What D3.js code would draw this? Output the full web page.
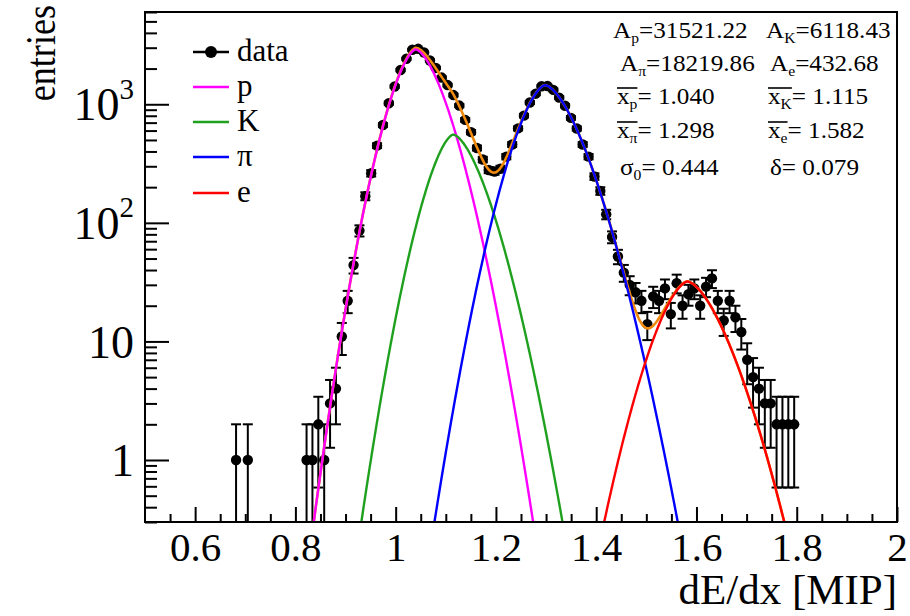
<!DOCTYPE html>
<html><head><meta charset="utf-8">
<script src="https://cdn.jsdelivr.net/npm/d3@7"></script>
<style>
html,body{margin:0;padding:0;background:#fff;}
</style></head><body>
<svg id="chart" width="910" height="616"></svg>
<script>
// Histogram of dE/dx: uniform bins starting at binStart, counts listed from bin index firstBin
const binStart = 0.5, binWidth = 1.5 / 128, firstBin = 15;
const counts = [
  1, 0, 1, 0, 0, 0, 0, 0, 0, 0, 0, 0,
  1, 1, 2, 1, 3, 4, 11, 22, 44, 86, 168, 262, 448, 668, 1021, 1412, 1945, 2418,
  2880, 2935, 2730, 2340, 2025, 1680, 1452, 1196, 975, 738, 582, 428, 342, 279,
  271, 286, 362, 458, 626, 802, 1035, 1228, 1418, 1425, 1322, 1138, 972, 768,
  625, 458, 362, 246, 186, 118, 76, 52, 38, 30, 26, 22, 14, 24, 22, 28, 17, 31, 20,
  25, 28, 20, 29, 34, 22, 15, 22, 16, 12, 7, 5, 4, 3, 3, 2, 2, 2, 2
];

// Fit components
const species = ["p", "K", "π", "e"];
const speciesColor = ["#ff00ff", "#1fa01f", "#0000ff", "#ff0000"];
const totalColor = "#f08a0c";
const fitArea = [31521.22, 6118.43, 18219.86, 432.68];
const fitMean = [1.040, 1.115, 1.298, 1.582];
const sigma0 = 0.444, deltaPar = 0.079;
const peakHeight = [2900, 555, 1450, 32];
const widthLow = [0.0330, 0.0337, 0.0376, 0.0411];
const widthHigh = [0.0380, 0.0400, 0.0451, 0.0478];
const shapePower = 1.6;

const xTicks = [0.6, 0.8, 1, 1.2, 1.4, 1.6, 1.8, 2];
const yTicks = [1, 10, 100, 1000];

const FONT = "Liberation Serif";
const frame = {left: 145, right: 897, top: 12, bottom: 522};
const svg = d3.select("#chart");
const x = d3.scaleLinear([0.5, 2.0], [frame.left, frame.right]);
const y = d3.scaleLog([0.3, 6000], [frame.bottom, frame.top]);

svg.append("defs").append("clipPath").attr("id", "plotClip")
  .append("rect").attr("x", frame.left).attr("y", frame.top)
  .attr("width", frame.right - frame.left).attr("height", frame.bottom - frame.top);

const plot = svg.append("g").attr("clip-path", "url(#plotClip)");

// data points with sqrt(N) errors
const points = counts.map((n, k) => ({
  x: binStart + (firstBin + k + 0.5) * binWidth, n
})).filter(d => d.n > 0);

const pg = plot.append("g");
points.forEach(d => {
  const e = Math.sqrt(d.n);
  const px = x(d.x);
  const yHi = y(d.n + e);
  const yLo = d.n - e > 0.3 ? y(d.n - e) : frame.bottom + 5;
  pg.append("line").attr("x1", px).attr("x2", px).attr("y1", yHi).attr("y2", yLo)
    .attr("stroke", "#000").attr("stroke-width", 2);
  pg.append("line").attr("x1", px - 5).attr("x2", px + 5).attr("y1", yHi).attr("y2", yHi)
    .attr("stroke", "#000").attr("stroke-width", 2);
  if (d.n - e > 0.3)
    pg.append("line").attr("x1", px - 5).attr("x2", px + 5).attr("y1", yLo).attr("y2", yLo)
      .attr("stroke", "#000").attr("stroke-width", 2);
});
pg.selectAll("circle").data(points).join("circle")
  .attr("cx", d => x(d.x)).attr("cy", d => y(d.n)).attr("r", 5.2).attr("fill", "#000");

// fit curves
function component(i, v) {
  const dv = v - fitMean[i];
  const s = dv < 0 ? widthLow[i] : widthHigh[i];
  return peakHeight[i] * Math.exp(-0.5 * Math.pow(Math.abs(dv) / s, shapePower));
}
const grid = d3.range(0.5, 2.0005, 0.002);
const line = d3.line().x(d => x(d[0])).y(d => y(Math.max(d[1], 1e-3)));

plot.append("path")
  .attr("d", line(grid.map(v => [v, species.reduce((s, _, i) => s + component(i, v), 0)])))
  .attr("fill", "none").attr("stroke", totalColor).attr("stroke-width", 2.6);
species.forEach((sp, i) => {
  plot.append("path")
    .attr("d", line(grid.map(v => [v, component(i, v)])))
    .attr("fill", "none").attr("stroke", speciesColor[i]).attr("stroke-width", 2.4);
});

// axes (ticks inside the frame)
const xMinor = d3.range(0.55, 2.0, 0.05).filter(v => Math.abs(v * 5 - Math.round(v * 5)) > 1e-6);
svg.append("g").attr("transform", `translate(0,${frame.bottom})`)
  .call(d3.axisBottom(x).tickValues(xMinor).tickSize(-8).tickFormat(""))
  .call(g => g.select(".domain").remove())
  .selectAll("line").attr("stroke-width", 2);
const xAxis = svg.append("g").attr("transform", `translate(0,${frame.bottom})`)
  .call(d3.axisBottom(x).tickValues(xTicks).tickSize(-15).tickPadding(9).tickFormat(d3.format("")))
  .call(g => g.select(".domain").remove());
xAxis.selectAll("line").attr("stroke-width", 2);
xAxis.selectAll("text").style("font-size", "41px").attr("dy", "0.72em");

const yMinor = [];
[0.1, 1, 10, 100, 1000].forEach(dec => d3.range(2, 10).forEach(m => {
  const v = dec * m; if (v >= 0.3 && v <= 6000) yMinor.push(v);
}));
svg.append("g").attr("transform", `translate(${frame.left},0)`)
  .call(d3.axisLeft(y).tickValues(yMinor).tickSize(-12).tickFormat(""))
  .call(g => g.select(".domain").remove())
  .selectAll("line").attr("stroke-width", 2);
const yAxis = svg.append("g").attr("transform", `translate(${frame.left},0)`)
  .call(d3.axisLeft(y).tickValues(yTicks).tickSize(-24).tickPadding(11).tickFormat(""))
  .call(g => g.select(".domain").remove());
yAxis.selectAll("line").attr("stroke-width", 2);
yAxis.selectAll(".tick").each(function (v) {
  const t = d3.select(this).select("text").style("font-size", "46px").attr("dy", "0.34em");
  const p = Math.round(Math.log10(v));
  if (p <= 1) t.text(String(v));
  else {
    t.append("tspan").text("10");
    t.append("tspan").text(String(p)).style("font-size", "29px").attr("dy", "-0.75em");
  }
});

// frame
svg.append("rect").attr("x", frame.left).attr("y", frame.top)
  .attr("width", frame.right - frame.left).attr("height", frame.bottom - frame.top)
  .attr("fill", "none").attr("stroke", "#000").attr("stroke-width", 2);

// axis titles
svg.append("text").attr("transform", "translate(55,5) rotate(-90) scale(0.86,1)")
  .attr("text-anchor", "end").style("font-size", "42px").text("entries");
svg.append("text").attr("x", frame.right).attr("y", 604)
  .attr("text-anchor", "end").style("font-size", "43px").text("dE/dx [MIP]");

// legend
const legend = svg.append("g");
const legRows = [52, 87, 122, 157, 193];
legend.append("line").attr("x1", 193).attr("x2", 229).attr("y1", legRows[0]).attr("y2", legRows[0])
  .attr("stroke", "#000").attr("stroke-width", 2.5);
legend.append("circle").attr("cx", 211).attr("cy", legRows[0]).attr("r", 6).attr("fill", "#000");
legend.append("text").attr("x", 237).attr("y", legRows[0] + 9).style("font-size", "31px").text("data");
species.forEach((sp, i) => {
  const yy = legRows[i + 1];
  legend.append("line").attr("x1", 193).attr("x2", 229).attr("y1", yy).attr("y2", yy)
    .attr("stroke", speciesColor[i]).attr("stroke-width", 2.5);
  legend.append("text").attr("x", 237).attr("y", yy + 9).style("font-size", "31px").text(sp);
});

// fit parameter box (text slightly widened)
const stats = svg.append("g");
function statLabel(x0, y0, sym, sub, bar, value) {
  const fs = 24;
  const g = stats.append("g").attr("transform", `translate(${x0},${y0}) scale(1.05,1)`);
  const t1 = g.append("text").attr("x", 0).attr("y", 0).style("font-family", FONT)
    .style("font-size", fs + "px").text(sym);
  const w = t1.node().getComputedTextLength();
  const t2 = g.append("text").attr("x", w).attr("y", 5).style("font-family", FONT)
    .style("font-size", (fs * 0.62) + "px").text(sub);
  const w2 = sub ? t2.node().getComputedTextLength() : 0;
  if (bar) g.append("line").attr("x1", 0).attr("x2", w + w2)
    .attr("y1", -16).attr("y2", -16).attr("stroke", "#000").attr("stroke-width", 1.6);
  g.append("text").attr("x", w + w2).attr("y", 0).style("font-family", FONT)
    .style("font-size", fs + "px").text(value);
}
const fmt2 = d3.format(".2f"), fmt3 = d3.format(".3f");
const colL = [613, 620, 617, 617, 620], colR = [766, 770, 768, 768, 770];
const rowY = [38, 71, 104, 138, 175];
statLabel(colL[0], rowY[0], "A", species[0], false, "=" + fmt2(fitArea[0]));
statLabel(colR[0], rowY[0], "A", species[1], false, "=" + fmt2(fitArea[1]));
statLabel(colL[1], rowY[1], "A", species[2], false, "=" + fmt2(fitArea[2]));
statLabel(colR[1], rowY[1], "A", species[3], false, "=" + fmt2(fitArea[3]));
statLabel(colL[2], rowY[2], "x", species[0], true, "= " + fmt3(fitMean[0]));
statLabel(colR[2], rowY[2], "x", species[1], true, "= " + fmt3(fitMean[1]));
statLabel(colL[3], rowY[3], "x", species[2], true, "= " + fmt3(fitMean[2]));
statLabel(colR[3], rowY[3], "x", species[3], true, "= " + fmt3(fitMean[3]));
statLabel(colL[4], rowY[4], "σ", "0", false, "= " + fmt3(sigma0));
statLabel(colR[4], rowY[4], "δ", "", false, "= " + fmt3(deltaPar));

// serif face on every label
svg.selectAll("text").style("font-family", FONT).attr("fill", "#000");
</script>
</body></html>
